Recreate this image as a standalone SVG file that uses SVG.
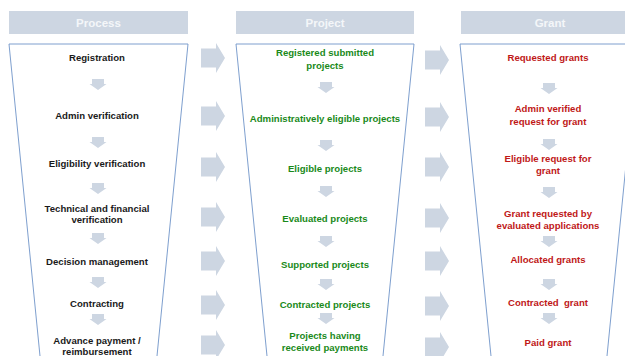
<svg xmlns="http://www.w3.org/2000/svg" width="625" height="356" viewBox="0 0 625 356">
<style>
.hdr{fill:#cdd6e2}
.hdrt{font-family:"Liberation Sans",Arial,sans-serif;font-weight:bold;font-size:11.5px;fill:#f4f6f9;text-anchor:middle}
.col{fill:#ffffff;stroke:#6f94c8;stroke-width:0.9}
.t{font-family:"Liberation Sans",Arial,sans-serif;font-weight:bold;font-size:9.6px;text-anchor:middle;white-space:pre}
.k{fill:#1a1a1a}
.g{fill:#1a8a1a}
.r{fill:#c01818}
.arr{fill:#cdd6e2}
</style>
<defs>
<polygon id="sa" points="-6,0 6,0 6,5 8.5,5 0,11 -8.5,5 -6,5"/>
<polygon id="ba" points="0,-9.5 15,-9.5 15,-15 24,0 15,15 15,9.5 0,9.5"/>
</defs>

<g id="hdr-process"><rect class="hdr" x="9" y="11" width="179" height="23"/><text class="hdrt" x="98.5" y="27">Process</text></g>
<g id="hdr-project"><rect class="hdr" x="236" y="11" width="178" height="23"/><text class="hdrt" x="325" y="27">Project</text></g>
<g id="hdr-grant"><rect class="hdr" x="461" y="11" width="179" height="23"/><text class="hdrt" x="550" y="27">Grant</text></g>

<g id="col-process"><polygon class="col" points="9,44 188,44 156,366 41,366"/></g>
<g id="col-project"><polygon class="col" points="236,44 414,44 382,366 268,366"/></g>
<g id="col-grant"><polygon class="col" points="460,44 638,44 606,366 492,366"/></g>

<g id="connectors">
<g class="arr">
<use href="#sa" x="98" y="79"/><use href="#sa" x="98" y="137"/><use href="#sa" x="98" y="183"/><use href="#sa" x="98" y="233"/><use href="#sa" x="98" y="277"/><use href="#sa" x="98" y="314"/>
<use href="#sa" x="326" y="82"/><use href="#sa" x="326" y="140"/><use href="#sa" x="326" y="186"/><use href="#sa" x="326" y="236"/><use href="#sa" x="326" y="279"/><use href="#sa" x="326" y="313"/>
<use href="#sa" x="549" y="83"/><use href="#sa" x="549" y="139"/><use href="#sa" x="549" y="187"/><use href="#sa" x="549" y="236"/><use href="#sa" x="549" y="279"/><use href="#sa" x="549" y="313"/>
<use href="#ba" x="201" y="58"/><use href="#ba" x="201" y="116"/><use href="#ba" x="201" y="167"/><use href="#ba" x="201" y="217"/><use href="#ba" x="201" y="261"/><use href="#ba" x="201" y="305"/><use href="#ba" x="201" y="345"/>
<use href="#ba" x="425" y="60"/><use href="#ba" x="425" y="117"/><use href="#ba" x="425" y="167"/><use href="#ba" x="425" y="218"/><use href="#ba" x="425" y="261"/><use href="#ba" x="425" y="306"/><use href="#ba" x="425" y="347"/>
</g>
</g>

<g id="p1"><text class="t k" x="97" y="61">Registration</text></g>
<g id="p2"><text class="t k" x="97" y="119">Admin verification</text></g>
<g id="p3"><text class="t k" x="97" y="167">Eligibility verification</text></g>
<g id="p4"><text class="t k" x="97" y="212">Technical and financial</text><text class="t k" x="97" y="223">verification</text></g>
<g id="p5"><text class="t k" x="97" y="265">Decision management</text></g>
<g id="p6"><text class="t k" x="97" y="307">Contracting</text></g>
<g id="p7"><text class="t k" x="97" y="344">Advance payment /</text><text class="t k" x="97" y="355">reimbursement</text></g>

<g id="j1"><text class="t g" x="325" y="56">Registered submitted</text><text class="t g" x="325" y="69">projects</text></g>
<g id="j2"><text class="t g" x="325" y="122">Administratively eligible projects</text></g>
<g id="j3"><text class="t g" x="325" y="172">Eligible projects</text></g>
<g id="j4"><text class="t g" x="325" y="222">Evaluated projects</text></g>
<g id="j5"><text class="t g" x="325" y="268">Supported projects</text></g>
<g id="j6"><text class="t g" x="325" y="308">Contracted projects</text></g>
<g id="j7"><text class="t g" x="325" y="339">Projects having</text><text class="t g" x="325" y="351">received payments</text></g>

<g id="g1"><text class="t r" x="548" y="61">Requested grants</text></g>
<g id="g2"><text class="t r" x="548" y="112">Admin verified</text><text class="t r" x="548" y="125">request for grant</text></g>
<g id="g3"><text class="t r" x="548" y="162">Eligible request for</text><text class="t r" x="548" y="174">grant</text></g>
<g id="g4"><text class="t r" x="548" y="217">Grant requested by</text><text class="t r" x="548" y="229">evaluated applications</text></g>
<g id="g5"><text class="t r" x="548" y="263">Allocated grants</text></g>
<g id="g6"><text class="t r" x="548" y="306">Contracted  grant</text></g>
<g id="g7"><text class="t r" x="548" y="346">Paid grant</text></g>
</svg>
